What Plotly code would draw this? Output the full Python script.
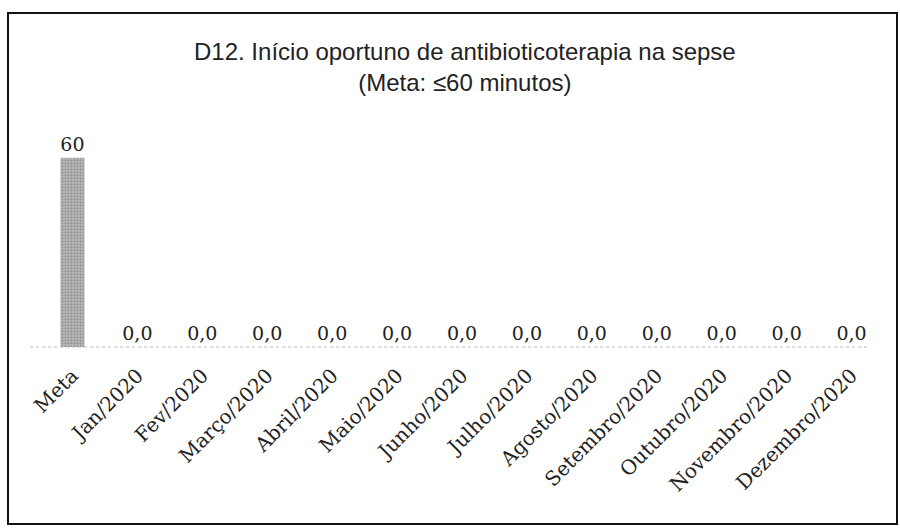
import plotly.graph_objects as go

categories = ["Meta", "Jan/2020", "Fev/2020", "Março/2020", "Abril/2020", "Maio/2020",
              "Junho/2020", "Julho/2020", "Agosto/2020", "Setembro/2020", "Outubro/2020",
              "Novembro/2020", "Dezembro/2020"]
values = [60, 0, 0, 0, 0, 0, 0, 0, 0, 0, 0, 0, 0]
title_lines = ["D12. Início oportuno de antibioticoterapia na sepse", "(Meta: ≤60 minutos)"]

labels = [str(int(values[0]))] + [f"{v:.1f}".replace(".", ",") for v in values[1:]]

W, H = 900, 530
ml, mr, mt, mb = 40, 16, 120, 183
pw, ph = W - ml - mr, H - mt - mb

def px(x):
    return (x - ml) / pw

def py(y):
    return (H - mb - y) / ph

fig = go.Figure(go.Bar(
    x=categories, y=values,
    text=labels, textposition="outside", cliponaxis=False, constraintext="none",
    textfont=dict(family="DejaVu Serif", size=19, color="#222"),
    marker=dict(color="#bdbdbd", line=dict(width=0),
                pattern=dict(shape=".", fgcolor="#6a6a6a", size=3, solidity=0.45)),
))

fig.update_layout(
    width=W, height=H,
    margin=dict(l=ml, r=mr, t=mt, b=mb),
    paper_bgcolor="white", plot_bgcolor="white",
    bargap=0.63,
    showlegend=False,
    xaxis=dict(tickangle=-45, showgrid=False, showline=False,
               ticks="outside", ticklen=8, tickcolor="rgba(0,0,0,0)",
               tickfont=dict(family="DejaVu Serif", size=20, color="#222")),
    yaxis=dict(range=[0, 72], visible=False, showgrid=False),
    annotations=[
        dict(text="<br>".join(title_lines), xref="paper", yref="paper", x=px(465), y=py(67),
             xanchor="center", yanchor="middle", showarrow=False,
             font=dict(family="Liberation Sans, Arial", size=24, color="#222")),
    ],
    shapes=[
        dict(type="line", xref="paper", yref="paper", x0=px(30), x1=px(870), y0=0, y1=0,
             line=dict(color="#bdbdbd", width=1, dash="dot")),
        dict(type="rect", xref="paper", yref="paper",
             x0=px(8), x1=px(897), y0=py(524), y1=py(13),
             line=dict(color="#111", width=2), fillcolor="rgba(0,0,0,0)"),
    ],
)

fig.write_html("out.html", config={"displayModeBar": False},
               post_script="document.body.style.margin='0';")
